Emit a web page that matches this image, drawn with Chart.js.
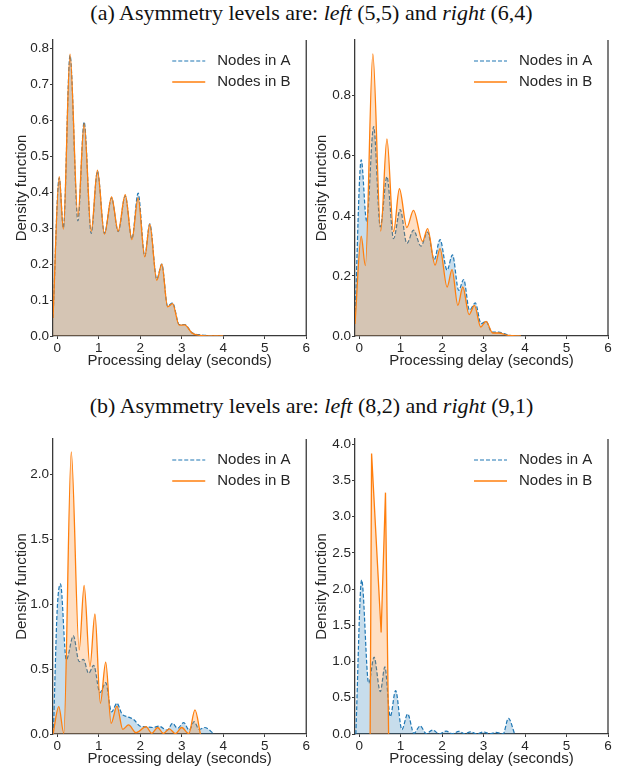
<!DOCTYPE html>
<html>
<head>
<meta charset="utf-8">
<script src="https://cdn.jsdelivr.net/npm/chart.js@4.4.1/dist/chart.umd.min.js"></script>
<style>
  body { margin:0; width:623px; height:777px; background:#fff; position:relative; overflow:hidden; }
  .cap { position:absolute; left:0; width:623px; text-align:center; font-family:"Liberation Serif", "Times New Roman", serif; font-size:22px; line-height:24px; color:#111; }
  .pan { position:absolute; }
</style>
</head>
<body>

<div class="cap" style="top:1px">(a) Asymmetry levels are: <i>left</i> (5,5) and <i>right</i> (6,4)</div>
<div class="cap" style="top:394px">(b) Asymmetry levels are: <i>left</i> (8,2) and <i>right</i> (9,1)</div>

<div class="pan" style="left:0;top:28px"><canvas id="c1" width="311" height="350"></canvas></div>
<div class="pan" style="left:311px;top:28px"><canvas id="c2" width="312" height="350"></canvas></div>
<div class="pan" style="left:0;top:424px"><canvas id="c3" width="311" height="350"></canvas></div>
<div class="pan" style="left:311px;top:424px"><canvas id="c4" width="312" height="350"></canvas></div>

<script>
// ===============================
// DADOS
// ===============================
const xTicks = [0, 1, 2, 3, 4, 5, 6];

// (a) left (5,5)
const p1X  = [-0.1, 0.05, 0.15, 0.31, 0.50, 0.65, 0.82, 0.97, 1.14, 1.31, 1.47, 1.64, 1.80, 1.95, 2.11, 2.23, 2.40, 2.52, 2.66, 2.78, 2.94, 3.07, 3.25, 3.45, 3.7, 4.0];
const p1AY = [0.05, 0.440, 0.300, 0.780, 0.320, 0.595, 0.285, 0.458, 0.285, 0.384, 0.290, 0.390, 0.270, 0.397, 0.222, 0.312, 0.158, 0.200, 0.083, 0.092, 0.032, 0.032, 0.009, 0.003, 0.001, 0];
const p1BY = [0.05, 0.443, 0.297, 0.784, 0.333, 0.591, 0.291, 0.461, 0.283, 0.387, 0.292, 0.393, 0.268, 0.384, 0.220, 0.311, 0.155, 0.200, 0.081, 0.090, 0.030, 0.031, 0.008, 0.002, 0.000, 0];
const p1YTicks = [0, 0.1, 0.2, 0.3, 0.4, 0.5, 0.6, 0.7, 0.8];

// (a) right (6,4)
const p2AX = [-0.1, 0.05, 0.18, 0.35, 0.51, 0.67, 0.83, 0.99, 1.15, 1.31, 1.49, 1.65, 1.81, 1.95, 2.12, 2.25, 2.40, 2.52, 2.66, 2.80, 2.94, 3.06, 3.20, 3.36, 3.6, 3.9];
const p2AY = [0.06, 0.586, 0.382, 0.697, 0.363, 0.530, 0.324, 0.421, 0.308, 0.352, 0.299, 0.346, 0.254, 0.321, 0.219, 0.270, 0.152, 0.188, 0.086, 0.110, 0.041, 0.049, 0.013, 0.013, 0.003, 0];
const p2BX = [-0.1, 0.05, 0.15, 0.33, 0.52, 0.67, 0.83, 0.97, 1.15, 1.31, 1.53, 1.65, 1.83, 1.95, 2.12, 2.24, 2.38, 2.50, 2.65, 2.78, 2.93, 3.06, 3.22, 3.36, 3.6, 3.9];
const p2BY = [0.04, 0.332, 0.234, 0.939, 0.349, 0.656, 0.347, 0.490, 0.361, 0.418, 0.315, 0.357, 0.236, 0.291, 0.163, 0.221, 0.102, 0.163, 0.071, 0.102, 0.030, 0.049, 0.010, 0.010, 0.002, 0];
const p2YTicks = [0, 0.2, 0.4, 0.6, 0.8];

// (b) left (8,2)
const p3AX = [-0.09, -0.06, 0.0, 0.08, 0.22, 0.39, 0.53, 0.63, 0.76, 0.88, 1.03, 1.17, 1.31, 1.44, 1.56, 1.72, 1.85, 2.0, 2.15, 2.3, 2.45, 2.65, 2.78, 2.9, 3.05, 3.18, 3.3, 3.42, 3.55, 3.78];
const p3AY = [0.0, 0.35, 0.95, 1.155, 0.570, 0.755, 0.557, 0.575, 0.467, 0.529, 0.318, 0.395, 0.170, 0.236, 0.155, 0.130, 0.110, 0.060, 0.055, 0.050, 0.060, 0.030, 0.082, 0.044, 0.087, 0.030, 0.095, 0.035, 0.050, 0];
const p3BX = [-0.1, 0.04, 0.16, 0.34, 0.53, 0.65, 0.79, 0.91, 1.04, 1.17, 1.30, 1.44, 1.58, 1.72, 1.90, 2.14, 2.28, 2.42, 2.56, 2.70, 2.85, 3.0, 3.17, 3.32, 3.45];
const p3BY = [0.0, 0.21, 0.005, 2.17, 0.647, 1.143, 0.519, 0.924, 0.236, 0.552, 0.082, 0.215, 0.036, 0.070, 0.010, 0.056, 0.005, 0.050, 0.004, 0.040, 0.003, 0.050, 0.003, 0.185, 0];
const p3YTicks = [0, 0.5, 1.0, 1.5, 2.0];

// (b) right (9,1)
const p4AX = [-0.08, 0.06, 0.23, 0.36, 0.51, 0.62, 0.75, 0.88, 1.03, 1.17, 1.32, 1.47, 1.62, 1.77, 1.93, 2.1, 2.25, 2.4, 2.55, 2.68, 2.84, 3.0, 3.15, 3.3, 3.47, 3.6, 3.75];
const p4AY = [0, 2.124, 0.70, 1.06, 0.584, 0.925, 0.24, 0.60, 0.06, 0.276, 0.01, 0.11, 0.005, 0.055, 0.003, 0.04, 0.003, 0.037, 0.002, 0.03, 0.002, 0.028, 0.002, 0.023, 0.002, 0.216, 0];
const p4BX = [0.265, 0.30, 0.53, 0.635, 0.71];
const p4BY = [0, 3.87, 1.40, 3.33, 0];
const p4YTicks = [0, 0.5, 1.0, 1.5, 2.0, 2.5, 3.0, 3.5, 4.0];


// ===============================
// ESTILO
// ===============================
const AZUL = "#1f77b4";
const LARANJA = "#ff7f0e";
const SPINE = "#3a3a3a";
const TXT = "#262626";

Chart.defaults.font.family = '"Liberation Sans", Arial, sans-serif';
Chart.defaults.color = TXT;

function pts(xs, ys){
  return xs.map((x, i) => ({ x: x, y: ys[i] }));
}

// spine da direita + legenda
const extras = {
  id: "extras",
  afterDraw(chart){
    const { ctx, chartArea: a } = chart;
    ctx.save();
    ctx.strokeStyle = SPINE;
    ctx.lineWidth = 1.3;
    ctx.beginPath();
    ctx.moveTo(a.right, a.top);
    ctx.lineTo(a.right, a.bottom);
    ctx.stroke();

    chart.data.datasets.forEach((ds, i) => {
      const y = a.top + 21 + i * 21;
      ctx.strokeStyle = ds.borderColor;
      ctx.lineWidth = ds.borderWidth;
      ctx.setLineDash(ds.borderDash || []);
      ctx.beginPath();
      ctx.moveTo(a.right - 134, y);
      ctx.lineTo(a.right - 101, y);
      ctx.stroke();
      ctx.setLineDash([]);
      ctx.fillStyle = TXT;
      ctx.font = '15px "Liberation Sans", Arial, sans-serif';
      ctx.textBaseline = "middle";
      ctx.textAlign = "left";
      ctx.fillText(ds.label, a.right - 89, y);
    });
    ctx.restore();
  }
};


// ===============================
// GRÁFICO
// ===============================
function criarPainel(id, p){

  const ctx = document.getElementById(id);

  new Chart(ctx, {
    type: "line",
    data: {
      datasets: [
        {
          label: "Nodes in A",
          data: pts(p.ax, p.ay),
          borderColor: AZUL,
          backgroundColor: "rgba(31,119,180,0.25)",
          borderWidth: 1.2,
          borderDash: [4, 2],
          fill: "origin",
          pointRadius: 0,
          cubicInterpolationMode: "monotone",
          order: 1
        },
        {
          label: "Nodes in B",
          data: pts(p.bx, p.by),
          borderColor: LARANJA,
          backgroundColor: "rgba(255,127,14,0.25)",
          borderWidth: 1.3,
          fill: "origin",
          pointRadius: 0,
          cubicInterpolationMode: p.reta ? "default" : "monotone",
          tension: 0,
          order: 0
        }
      ]
    },
    options: {
      responsive: false,
      animation: false,
      layout: { padding: { top: p.pt, right: p.pr, bottom: 0, left: 0 } },
      plugins: { legend: { display: false }, tooltip: { enabled: false } },
      scales: {
        x: {
          type: "linear",
          min: -0.1,
          max: 6,
          border: { color: SPINE, width: 1.3 },
          grid: { drawOnChartArea: false, drawTicks: true, tickLength: 3, color: SPINE },
          ticks: { color: TXT, font: { size: 13.5 }, padding: 1, maxRotation: 0, autoSkip: false, callback: v => String(v) },
          afterBuildTicks: s => { s.ticks = xTicks.map(v => ({ value: v })); },
          afterFit: s => { s.height = p.xh; },
          title: { display: true, text: "Processing delay (seconds)", color: TXT, font: { size: 15 }, padding: { top: 0, bottom: p.xpb } }
        },
        y: {
          type: "linear",
          min: 0,
          max: p.ymax,
          border: { color: SPINE, width: 1.3 },
          grid: { drawOnChartArea: false, drawTicks: true, tickLength: 3, color: SPINE },
          ticks: { color: TXT, font: { size: 13.5 }, padding: 1, autoSkip: false, callback: v => v.toFixed(1) },
          afterBuildTicks: s => { s.ticks = p.yTicks.map(v => ({ value: v })); },
          afterFit: s => { s.width = p.yw; },
          title: { display: true, text: "Density function", color: TXT, font: { size: 15 }, padding: { top: p.ypt, bottom: 0 } }
        }
      }
    },
    plugins: [extras]
  });
}


// ===============================
// INIT
// ===============================
criarPainel("c1", { ax: p1X, ay: p1AY, bx: p1X, by: p1BY, ymax: 0.823, yTicks: p1YTicks, pt: 12, pr: 4, yw: 53, xh: 42, xpb: 8, ypt: 12.5 });
criarPainel("c2", { ax: p2AX, ay: p2AY, bx: p2BX, by: p2BY, ymax: 0.985, yTicks: p2YTicks, pt: 12, pr: 15, yw: 44, xh: 42, xpb: 8, ypt: 1.5 });
criarPainel("c3", { ax: p3AX, ay: p3AY, bx: p3BX, by: p3BY, ymax: 2.27, yTicks: p3YTicks, pt: 15, pr: 4, yw: 53, xh: 40, xpb: 6, ypt: 12.5 });
criarPainel("c4", { ax: p4AX, ay: p4AY, bx: p4BX, by: p4BY, ymax: 4.07, yTicks: p4YTicks, pt: 15, pr: 15, yw: 44, xh: 40, xpb: 6, ypt: 1.5, reta: true });
</script>
</body>
</html>
